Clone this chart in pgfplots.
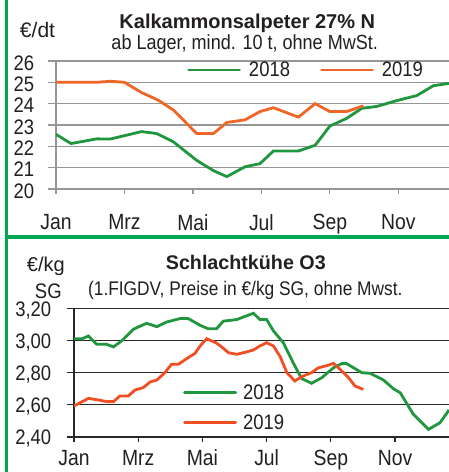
\documentclass[border=0pt]{standalone}
\usepackage{pgfplots}
\pgfplotsset{compat=1.18}
\usepackage{fontspec}
\setmainfont{Liberation Sans}[FakeStretch=0.88]
\newfontfamily\wfont{Liberation Sans}
\definecolor{frame}{RGB}{0,166,80}
\definecolor{g18}{RGB}{32,150,62}
\definecolor{o19}{RGB}{240,102,38}
\definecolor{r19}{RGB}{240,78,35}
\definecolor{txt}{RGB}{35,31,32}
\definecolor{gridgray}{RGB}{150,150,150}
\definecolor{griddark}{RGB}{40,40,40}
\newcommand{\fs}[1]{\fontsize{#1bp}{#1bp}\selectfont}
\pgfplotsset{
  panel/.style={
    scale only axis, anchor=south west,
    axis x line*=bottom, axis y line*=left,
    tick align=outside,
    xtick={0,2,4,6,8,10}, xticklabels={Jan,Mrz,Mai,Jul,Sep,Nov},
    ymajorgrids,
    ticklabel style={text=txt},
    xticklabel style={font=\fs{22}, inner sep=0pt},
    yticklabel style={font=\fs{21}},
    /pgf/number format/assume math mode=true,
    legend image code/.code={\draw[##1, line cap=round] (0bp,0bp) -- (51bp,0bp);},
    legend cell align=left,
  },
}
\begin{document}
\begin{tikzpicture}[x=1bp,y=1bp]
\useasboundingbox (0,0) rectangle (449,472);
\fill[white] (0,0) rectangle (449,472);

% ---------- top panel ----------
\begin{axis}[panel,
  at={(56bp,283bp)}, width=393bp, height=128bp,
  xmin=0, xmax=11.48, ymin=20, ymax=26,
  ytick={20,21,22,23,24,25,26},
  xticklabel style={yshift=-21bp},
  yticklabel style={xshift=-14bp, yshift=-2bp},
  axis line style={-, draw=gridgray, line width=1.2bp},
  major grid style={draw=gridgray, line width=1.2bp},
  tick style={draw=gridgray, line width=1.2bp},
  xtick style={/pgfplots/major tick length=5bp},
  ytick style={/pgfplots/major tick length=8bp},
  legend style={draw=none, fill=none, at={(rel axis cs:0.3333,0.93)}, anchor=west,
    font=\fs{21}, text=txt, inner sep=0pt, nodes={inner sep=0pt},
    /tikz/every odd column/.append style={column sep=8bp},
    /tikz/every even column/.append style={column sep=30bp}},
  legend columns=2,
]
\addplot[g18, line width=2.8bp] coordinates {
(0,22.56) (0.44,22.13) (1.19,22.35) (1.58,22.34) (2.5,22.69) (2.94,22.6)
(3.43,22.21) (4.11,21.34) (4.6,20.86) (4.99,20.58) (5.52,21.04) (5.96,21.19)
(6.35,21.78) (7.08,21.78) (7.57,22.05) (8.0,22.95) (8.49,23.31) (8.93,23.78)
(9.37,23.87) (9.95,24.14) (10.54,24.38) (11.02,24.84) (11.48,24.95)};
\addlegendentry{2018}
\addplot[o19, line width=2.8bp] coordinates {
(0,25.0) (1.19,25.0) (1.58,25.05) (2.0,25.0) (2.5,24.52) (2.99,24.16)
(3.43,23.7) (4.11,22.6) (4.6,22.6) (4.99,23.12) (5.52,23.24) (5.96,23.63)
(6.35,23.81) (7.08,23.37) (7.57,24.0) (8.0,23.63) (8.49,23.63) (8.98,23.9)};
\addlegendentry{2019}
\end{axis}

% ---------- bottom panel ----------
\begin{axis}[panel,
  at={(74bp,35bp)}, width=375bp, height=128.7bp,
  xmin=0, xmax=11.68, ymin=2.4, ymax=3.2,
  ytick={2.4,2.6,2.8,3.0,3.2},
  xticklabel style={yshift=-8.5bp},
  yticklabel style={xshift=-15bp, yshift=-2bp, /pgf/number format/.cd, fixed, fixed zerofill, precision=2, use comma},
  axis line style={-, draw=griddark, line width=1.2bp},
  major grid style={draw=griddark, line width=1.2bp},
  tick style={draw=griddark, line width=1.2bp},
  xtick style={/pgfplots/major tick length=5bp},
  ytick style={/pgfplots/major tick length=7bp},
  legend style={draw=none, fill=none, at={(rel axis cs:0.2907,0.227)}, anchor=west,
    font=\fs{21}, text=txt, inner sep=0pt, nodes={inner sep=0pt}, row sep=14bp,
    /tikz/every odd column/.append style={column sep=6bp}},
  legend columns=1,
]
\addplot[g18, line width=2.8bp] coordinates {
(0,3.011) (0.24,3.01) (0.45,3.028) (0.71,2.976) (1.02,2.976) (1.23,2.96)
(1.48,2.997) (1.85,3.07) (2.26,3.107) (2.58,3.086) (2.89,3.115) (3.30,3.136)
(3.56,3.136) (3.93,3.094) (4.18,3.073) (4.44,3.073) (4.65,3.12) (5.07,3.13)
(5.33,3.15) (5.59,3.169) (5.79,3.13) (6.0,3.13) (6.21,3.06) (6.52,2.986)
(6.83,2.86) (7.09,2.763) (7.40,2.734) (7.72,2.769) (8.08,2.83) (8.34,2.856)
(8.49,2.856) (8.96,2.80) (9.22,2.796) (9.64,2.754) (9.95,2.70) (10.16,2.675)
(10.57,2.541) (11.04,2.447) (11.40,2.489) (11.68,2.568)};
\addlegendentry{2018}
\addplot[r19, line width=2.8bp] coordinates {
(0,2.593) (0.45,2.64) (0.76,2.63) (1.02,2.62) (1.23,2.62) (1.43,2.655)
(1.69,2.655) (1.90,2.692) (2.16,2.707) (2.37,2.742) (2.58,2.754) (2.83,2.80)
(3.04,2.852) (3.25,2.852) (3.51,2.887) (3.77,2.92) (3.93,2.966) (4.13,3.011)
(4.42,2.986) (4.60,2.96) (4.81,2.924) (5.07,2.914) (5.38,2.929) (5.59,2.941)
(5.79,2.966) (6.0,2.986) (6.21,2.966) (6.42,2.90) (6.63,2.80) (6.88,2.748)
(7.09,2.775) (7.40,2.80) (7.61,2.83) (7.92,2.846) (8.08,2.858) (8.29,2.82)
(8.55,2.769) (8.75,2.717) (9.01,2.696)};
\addlegendentry{2019}
\end{axis}

% ---------- frame ----------
\fill[frame] (5,0) rectangle (8,472);
\fill[frame] (5,233) rectangle (449,237);

% ---------- titles ----------
\node[anchor=base, inner sep=0pt, text=txt, font=\wfont\bfseries\fs{20}] at (247.3,443.7) {Kalkammonsalpeter 27\% N};
\node[anchor=base, inner sep=0pt, text=txt, font=\fs{20.5}] at (244.7,422) {ab Lager, mind. 10 t, ohne MwSt.};
\node[anchor=base, inner sep=0pt, text=txt, font=\wfont\fs{21}] at (37.5,434) {€/dt};
\node[anchor=base, inner sep=0pt, text=txt, font=\wfont\bfseries\fs{19.7}] at (245.8,202.7) {Schlachtkühe O3};
\node[anchor=base, inner sep=0pt, text=txt, font=\fs{19.7}] at (245.3,176) {(1.FIGDV, Preise in €/kg SG, ohne Mwst.};
\node[anchor=base, inner sep=0pt, text=txt, font=\wfont\fs{20}] at (45.8,200) {€/kg};
\node[anchor=base, inner sep=0pt, text=txt, font=\fs{21}] at (48.3,173.3) {SG};
\end{tikzpicture}
\end{document}
